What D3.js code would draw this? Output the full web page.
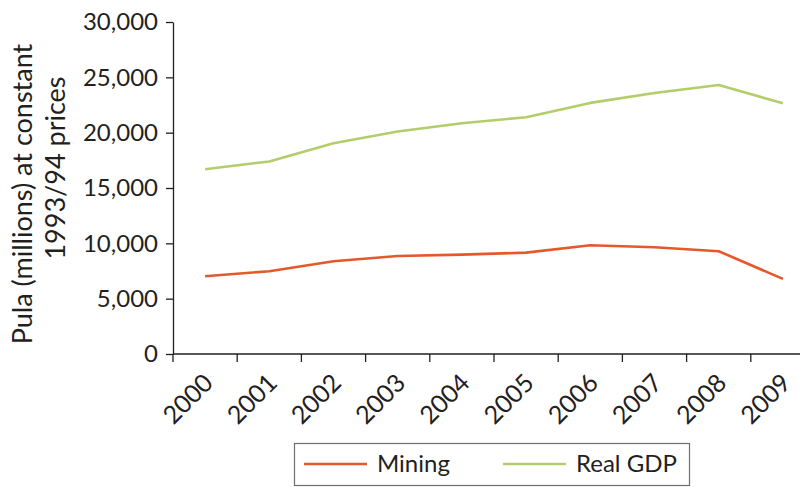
<!doctype html>
<html>
<head>
<meta charset="UTF-8">
<title>Mining and real GDP</title>
<script src="https://d3js.org/d3.v7.min.js"></script>
<style>
    body { margin: 0; background: #fff; }
    text { font-family: Lato, "Open Sans", sans-serif; fill: #231f20; }
</style>
</head>
<body>
<svg id="chart" width="804" height="487"></svg>
<script>
    // values (Pula millions, constant 1993/94 prices)
    var years = ["2000", "2001", "2002", "2003", "2004", "2005", "2006", "2007", "2008", "2009"];
    var mining = [7030, 7480, 8380, 8860, 8980, 9160, 9830, 9650, 9290, 6790];
    var realGdp = [16700, 17400, 19050, 20100, 20850, 21400, 22690, 23590, 24310, 22660];
    var yTicks = [0, 5000, 10000, 15000, 20000, 25000, 30000];
    var seriesNames = ["Mining", "Real GDP"];
    var seriesColors = ["#e4582c", "#b3cd6b"];

    var svg = d3.select("#chart");
    var pLeft = 173, pRight = 815, pTop = 22, pBottom = 354;

    var x = d3.scaleBand().domain(years).range([pLeft, pRight]);
    var y = d3.scaleLinear().domain([0, 30000]).range([pBottom, pTop]);
    var bw = x.bandwidth();

    // y axis
    var yAxis = svg.append("g")
        .attr("transform", "translate(" + pLeft + ",0)")
        .call(d3.axisLeft(y).tickValues(yTicks).tickSize(7).tickSizeOuter(0).tickPadding(8).tickFormat(d3.format(",")));
    yAxis.selectAll("text").style("font-size", "24px").attr("fill", "#231f20").attr("font-family", null);
    yAxis.selectAll("line, path").attr("stroke", "#231f20").attr("stroke-width", 1.3);

    // x axis (ticks on band edges, labels on band centres)
    var xAxis = svg.append("g");
    xAxis.append("line")
        .attr("x1", pLeft).attr("x2", 800)
        .attr("y1", pBottom).attr("y2", pBottom)
        .attr("stroke", "#231f20").attr("stroke-width", 1.3);
    xAxis.selectAll(".tick")
        .data(years)
        .enter().append("line")
        .attr("x1", function (d) { return x(d); })
        .attr("x2", function (d) { return x(d); })
        .attr("y1", pBottom).attr("y2", pBottom + 8)
        .attr("stroke", "#231f20").attr("stroke-width", 1.3);
    xAxis.selectAll("text")
        .data(years)
        .enter().append("text")
        .attr("transform", function (d) {
            return "translate(" + (x(d) + bw / 2 - 3) + "," + (pBottom + 18) + ") rotate(-45)";
        })
        .attr("text-anchor", "end")
        .attr("dy", "0.7em")
        .style("font-size", "25px")
        .text(function (d) { return d; });

    // y axis title, two lines
    svg.append("text")
        .attr("transform", "translate(32,194) rotate(-90)")
        .attr("text-anchor", "middle")
        .style("font-size", "27px")
        .text("Pula (millions) at constant");
    svg.append("text")
        .attr("transform", "translate(65,168) rotate(-90)")
        .attr("text-anchor", "middle")
        .style("font-size", "27px")
        .text("1993/94 prices");

    // lines
    var line = d3.line()
        .x(function (d, i) { return x(years[i]) + bw / 2; })
        .y(function (d) { return y(d); });

    [mining, realGdp].forEach(function (s, k) {
        svg.append("path")
            .datum(s)
            .attr("d", line)
            .attr("fill", "none")
            .attr("stroke", seriesColors[k])
            .attr("stroke-width", 2.6)
            .attr("stroke-linejoin", "round");
    });

    // legend
    var lg = svg.append("g");
    lg.append("rect")
        .attr("x", 294.5).attr("y", 443.5)
        .attr("width", 395).attr("height", 42)
        .attr("fill", "none").attr("stroke", "#6d6e70").attr("stroke-width", 1.2);
    var legX = [304, 503];
    seriesNames.forEach(function (n, k) {
        lg.append("line")
            .attr("x1", legX[k]).attr("x2", legX[k] + 63)
            .attr("y1", 464).attr("y2", 464)
            .attr("stroke", seriesColors[k]).attr("stroke-width", 2.6);
        lg.append("text")
            .attr("x", legX[k] + 73).attr("y", 472)
            .style("font-size", "24px")
            .text(n);
    });
</script>
</body>
</html>
